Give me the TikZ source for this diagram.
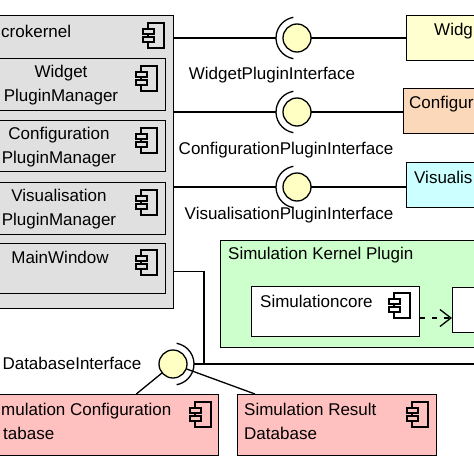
\documentclass[tikz,border=0pt]{standalone}
\usepackage{fontspec}
\setmainfont{Liberation Sans}
\usetikzlibrary{arrows.meta,calc}
\definecolor{kgray}{RGB}{224,224,224}
\definecolor{iyellow}{RGB}{255,255,196}
\definecolor{wyellow}{RGB}{255,255,208}
\definecolor{corange}{RGB}{251,216,186}
\definecolor{vcyan}{RGB}{204,255,255}
\definecolor{sgreen}{RGB}{204,255,204}
\definecolor{dbred}{RGB}{255,192,192}
\tikzset{
  box/.style={draw=black, line width=1.3pt, inner sep=0pt, anchor=north west},
  txt/.style={font=\fontsize{17}{24}\selectfont, inner sep=0pt},
  conn/.style={line width=1.3pt},
  iface/.style={circle, draw=black, line width=1.3pt, fill=iyellow, minimum size=28pt, inner sep=0pt},
  sock/.style={line width=1.3pt},
}
\newcommand\compicon[3]{%
  \draw[line width=1.1pt, fill=#3] (#1+5,#2) rectangle (#1+21,#2+25);
  \draw[line width=1.1pt, fill=#3] (#1,#2+6) rectangle (#1+11,#2+11);
  \draw[line width=1.1pt, fill=#3] (#1,#2+14) rectangle (#1+11,#2+19);
}
\begin{document}
\begin{tikzpicture}[x=1pt,y=-1pt]
\useasboundingbox (0,0) rectangle (474,474);
\fill[white] (0,0) rectangle (474,474);
\clip (0,0) rectangle (474,474);
% microkernel
\node[box, fill=kgray, minimum width=203pt, minimum height=293pt] (mk) at (-30,15) {};
\node[box, fill=kgray, minimum width=187pt, minimum height=52pt] (wpm) at (-22,58) {};
\node[box, fill=kgray, minimum width=187pt, minimum height=51pt] (cpm) at (-22,120) {};
\node[box, fill=kgray, minimum width=187pt, minimum height=52pt] (vpm) at (-22,182) {};
\node[box, fill=kgray, minimum width=187pt, minimum height=50pt] (mw) at (-22,243) {};
% plugins on the right
\node[box, fill=wyellow, minimum width=90pt, minimum height=45pt] (wp) at (406,15) {};
\node[box, fill=corange, minimum width=90pt, minimum height=45pt] (cp) at (403,88) {};
\node[box, fill=vcyan, minimum width=90pt, minimum height=45pt] (vp) at (406,162) {};
\node[box, fill=sgreen, minimum width=270pt, minimum height=107pt] (skp) at (220,240) {};
\node[box, fill=white, minimum width=168pt, minimum height=50pt] (sc) at (251,286) {};
\node[box, fill=white, minimum width=40pt, minimum height=45pt] (oc) at (452,287) {};
% databases
\node[box, fill=dbred, minimum width=248pt, minimum height=61pt] (scd) at (-30,394) {};
\node[box, fill=dbred, minimum width=199pt, minimum height=61pt] (srd) at (237,394) {};
% interface positions
\coordinate (wic) at (297,38);
\coordinate (cic) at (297,112);
\coordinate (vic) at (297,187);
\coordinate (dic) at (173,364);
\coordinate (jn) at (204,364);
\coordinate (dbend) at (490,364);
% connectors
\draw[conn] (mk.east |- wic) -- ([xshift=-21pt]wic);
\draw[conn] (wic) -- (wp.west |- wic);
\draw[conn] (mk.east |- cic) -- ([xshift=-21pt]cic);
\draw[conn] (cic) -- (cp.west |- cic);
\draw[conn] (mk.east |- vic) -- ([xshift=-21pt]vic);
\draw[conn] (vic) -- (vp.west |- vic);
\draw[conn] ([yshift=-3pt]mk.east |- mw.center) -| (jn);
\draw[conn] ([xshift=21pt]dic) -- (dbend);
\draw[conn] (dic) -- ($(scd.north east)+(-83,0)$);
\draw[conn] (dic) -- ($(srd.north west)+(18,0)$);
\draw[conn, dash pattern=on 5pt off 7pt, -{Straight Barb[length=11pt,width=17pt,line width=1.3pt]}] (sc.east |- 0,318) -- (oc.west |- 0,318);
% interface circles and sockets
\node[iface] (wi) at (wic) {};
\node[iface] (ci) at (cic) {};
\node[iface] (vi) at (vic) {};
\node[iface] (di) at (dic) {};
\draw[sock] ([shift={(100:21)}]wic) arc[start angle=100, end angle=260, radius=21];
\draw[sock] ([shift={(100:21)}]cic) arc[start angle=100, end angle=260, radius=21];
\draw[sock] ([shift={(100:21)}]vic) arc[start angle=100, end angle=260, radius=21];
\draw[sock] ([shift={(-80:21)}]dic) arc[start angle=-80, end angle=80, radius=21];
% icons
\compicon{143}{23}{kgray}
\compicon{136}{66}{kgray}
\compicon{136}{128}{kgray}
\compicon{136}{190}{kgray}
\compicon{136}{250}{kgray}
\compicon{190}{402}{dbred}
\compicon{407}{402}{dbred}
\compicon{389}{293}{white}
% texts
\node[txt, anchor=west] (tmk) at (1,31) {crokernel};
\node[txt, align=center] (twpm) at (61,85) {Widget\\PluginManager};
\node[txt, align=center] (tcpm) at (59,147) {Configuration\\PluginManager};
\node[txt, align=center] (tvpm) at (59,209) {Visualisation\\PluginManager};
\node[txt] (tmw) at (60,257) {MainWindow};
\node[txt] (lwi) at (272,75) {WidgetPluginInterface};
\node[txt] (lci) at (286,150) {ConfigurationPluginInterface};
\node[txt] (lvi) at (289,215) {VisualisationPluginInterface};
\node[txt] (ldi) at (72,363) {DatabaseInterface};
\node[txt, anchor=west] (twp) at (434,31) {Widg};
\node[txt, anchor=west] (tcp) at (409,104) {Configur};
\node[txt, anchor=west] (tvp) at (414,177) {Visualis};
\node[txt, anchor=west] (tskp) at (228,255) {Simulation Kernel Plugin};
\node[txt, anchor=west] (tsc) at (260,301) {Simulationcore};
\node[txt, anchor=west, align=left] (tscd) at (1,421) {mulation Configuration\\\hspace*{2pt}tabase};
\node[txt, anchor=west, align=left] (tsrd) at (244,421) {Simulation Result\\Database};
\end{tikzpicture}
\end{document}
